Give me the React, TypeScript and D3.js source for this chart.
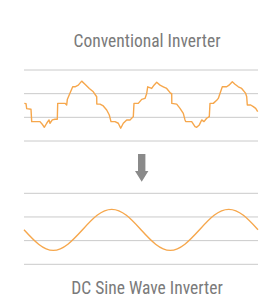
import * as d3 from 'd3';

const W = 271;
const H = 305;
const PLOT = { left: 24, right: 258 };
const ORANGE = '#f6a74c';
const GRID = '#cacaca';
const TEXT = '#7a7a7a';

const titles = ['Conventional Inverter', 'DC Sine Wave Inverter'];
const gridValues = [0, 1, 2, 3];

// stepped (modified sine) output, t = horizontal position 0..234, v in grid units
const steppedT = [0.3, 2, 2.7, 7, 7.7, 16, 18, 20.3, 22.7, 25, 26, 28.3, 31, 33.3, 33.7, 41, 42.7, 43.3, 48.7, 51, 54.3, 57.7, 61, 65.3, 69.3, 72.7, 72.8, 76, 79.3, 82.7, 85.3, 87, 91, 94.3, 96.7, 99.3, 102.7, 106, 109.3, 110, 114.3, 117.7, 121, 122.7, 123.7, 127.7, 130, 132.7, 136, 139.3, 142.7, 146.7, 147.7, 147.8, 152.7, 156, 159.3, 161, 161.7, 167.7, 171, 172.7, 175.3, 177.7, 180, 182.7, 185.3, 186, 189.3, 192.7, 194.3, 196, 198.3, 202.7, 205, 208.3, 211, 214.3, 217.7, 221.7, 222.7, 223.3, 226.7, 229.3, 231.7, 233.7];
const steppedV = [1.59, 1.58, 1.37, 1.34, 0.82, 0.82, 0.72, 0.58, 0.75, 0.89, 0.75, 0.89, 0.92, 0.92, 1.59, 1.59, 1.52, 1.75, 2.29, 2.29, 2.36, 2.53, 2.4, 2.22, 2.08, 1.87, 1.56, 1.56, 1.48, 1.31, 1.1, 0.82, 0.82, 0.75, 0.54, 0.75, 0.89, 0.89, 1.03, 1.59, 1.59, 1.76, 1.8, 2.01, 2.29, 2.22, 2.36, 2.48, 2.36, 2.29, 2.22, 2.01, 2.01, 1.59, 1.56, 1.38, 1.17, 0.89, 0.82, 0.82, 0.61, 0.58, 0.68, 0.89, 0.82, 0.96, 1.03, 1.59, 1.59, 1.72, 1.8, 2.01, 2.29, 2.29, 2.36, 2.5, 2.4, 2.29, 2.22, 2.01, 1.87, 1.52, 1.52, 1.45, 1.38, 1.24];

// pure sine output, read at eighth-period points
const sineT = [0, 14.6, 29.25, 43.9, 58.5, 73.1, 87.75, 102.4, 117, 131.6, 146.25, 160.9, 175.5, 190.1, 204.75, 219.4, 234];
const sineV = [1.46, 0.85, 0.59, 0.85, 1.46, 2.07, 2.32, 2.07, 1.46, 0.85, 0.59, 0.85, 1.46, 2.07, 2.32, 2.07, 1.46];

const x = d3.scaleLinear().domain([0, 234]).range([PLOT.left, PLOT.right]);
const yTop = d3.scaleLinear().domain([0, 3]).range([141, 70]);
const yBottom = d3.scaleLinear().domain([0, 3]).range([264.3, 193.3]);

const Panel = ({ y, ts, vs, curve }: { y: d3.ScaleLinear<number, number>; ts: number[]; vs: number[]; curve: d3.CurveFactory }) => {
  const line = d3.line<number>()
    .x((_, i) => x(ts[i]))
    .y(d => y(d))
    .curve(curve);
  return (
    <g>
      {gridValues.map(g => (
        <line key={g} x1={PLOT.left} x2={PLOT.right} y1={y(g)} y2={y(g)} stroke={GRID} strokeWidth={1} />
      ))}
      <path d={line(vs) || ''} fill="none" stroke={ORANGE} strokeWidth={1.4} strokeLinejoin="round" />
    </g>
  );
};

export default function App() {
  const font = "'Liberation Sans Narrow', 'Roboto Condensed', 'DejaVu Sans Condensed', sans-serif";
  const cx = 141.7;
  return (
    <svg width={W} height={H} style={{ position: 'absolute', left: 0, top: 0, background: '#fff' }}>
      <text x={147} y={47} textAnchor="middle" fontFamily={font} fontSize={17.5} fill={TEXT}>{titles[0]}</text>
      <Panel y={yTop} ts={steppedT} vs={steppedV} curve={d3.curveLinear} />
      <path
        d={`M${cx - 3.7},154 H${cx + 3.7} V171 H${cx + 6.7} L${cx},181.7 L${cx - 6.7},171 H${cx - 3.7} Z`}
        fill="#8a8a8a"
      />
      <Panel y={yBottom} ts={sineT} vs={sineV} curve={d3.curveNatural} />
      <text x={147} y={294} textAnchor="middle" fontFamily={font} fontSize={17.5} fill={TEXT}>{titles[1]}</text>
    </svg>
  );
}
